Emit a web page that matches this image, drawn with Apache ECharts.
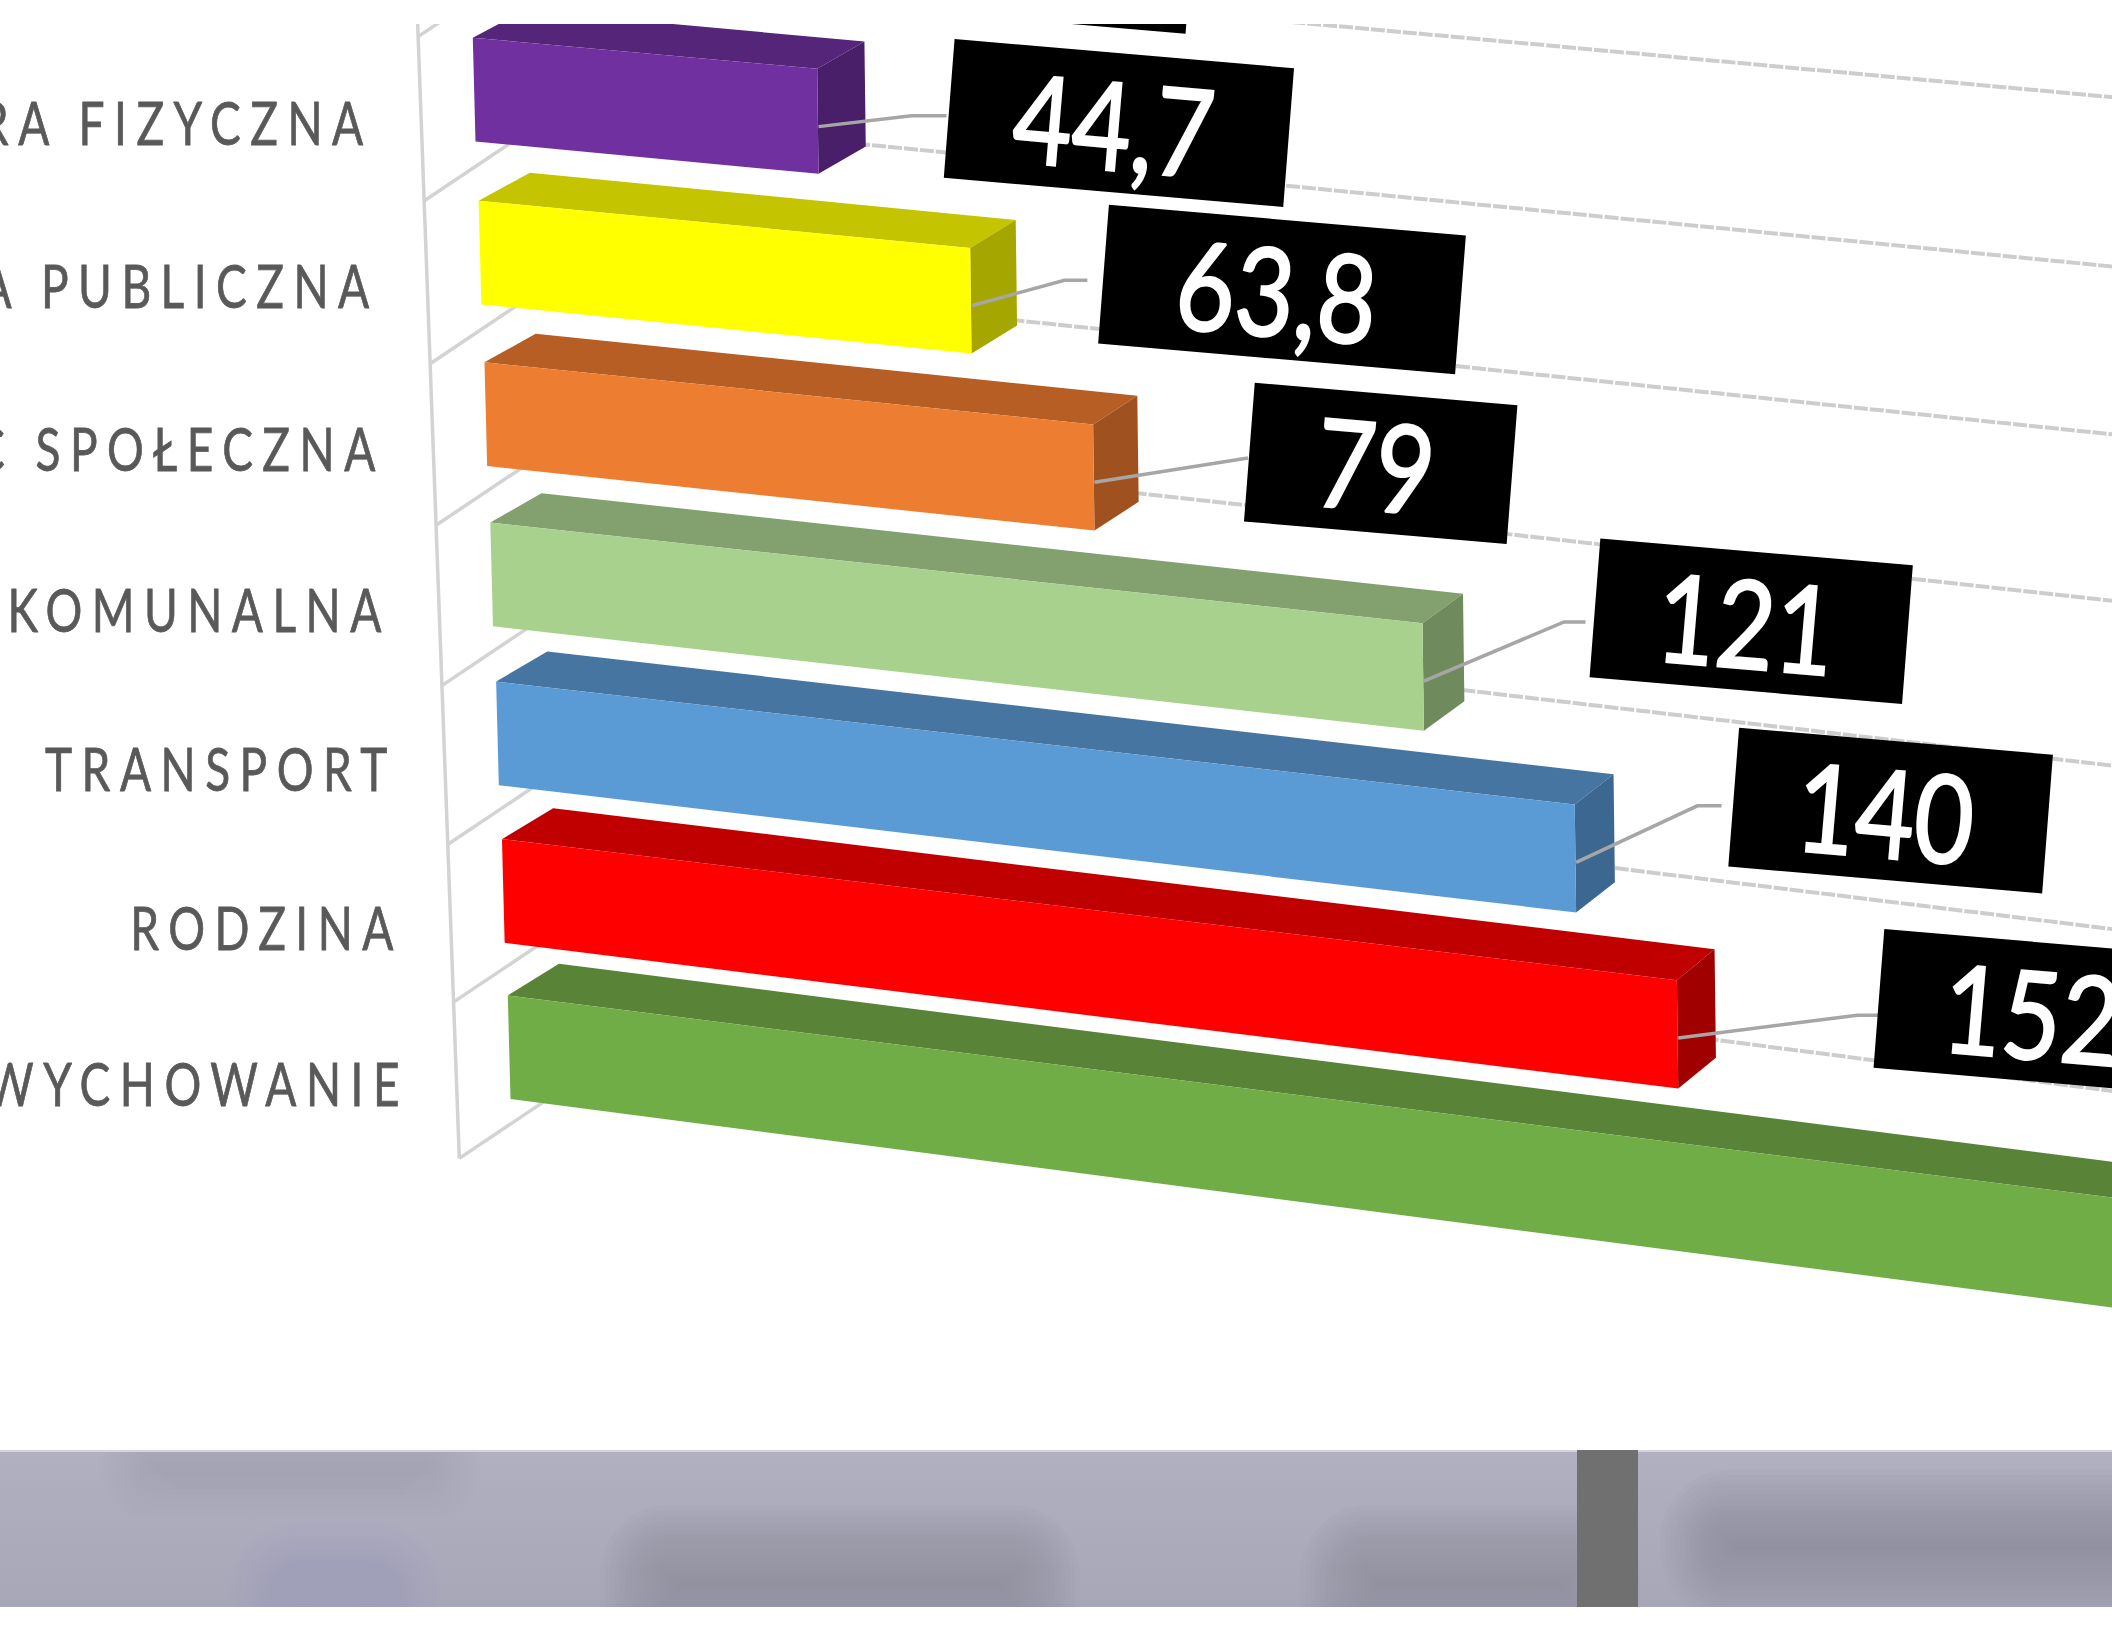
<!DOCTYPE html>
<html><head><meta charset="utf-8">
<script src="https://cdn.jsdelivr.net/npm/echarts@6/dist/echarts.min.js"></script>
<style>
html,body{margin:0;padding:0;background:#fff}
#main{width:2112px;height:1632px}
#main text[fill="#595959"]{letter-spacing:9.5px}
</style></head><body><div id="main"></div>
<script>
// ---- data (bottom to top, as on the category axis)
const categories = ['OŚWIATA I WYCHOWANIE','RODZINA','TRANSPORT','GOSPODARKA KOMUNALNA','POMOC SPOŁECZNA','ADMINISTRACJA PUBLICZNA','KULTURA FIZYCZNA','KULTURA'];
const barValues = [281, 152.5, 140, 121, 79, 63.8, 44.7, 34];
const valueMax = 300;

// ---- style
const frontColors = ['#70AD47','#FF0000','#5B9BD5','#A9D18E','#ED7D31','#FFFF00','#7030A0','#7F7F7F'];
const topColors   = ['#598336','#C00000','#4675A1','#83A06F','#B65E24','#C4C400','#55257A','#666666'];
const sideColors  = ['#4B6E2D','#A00000','#3B6790','#6F8B5D','#9F521F','#A6A600','#481F68','#555555'];
// label box: offset from the bar's end, box width, leader bend and end relative to the box
const boxOffset = [[150,-30],[154,-38],[122,-57],[132,-63],[120,-31],[103,-32],[102,-22],[117,-20]];
const boxWidth  = [240,296,233,232,195,265,252,230];
const leaderBend= [[-30,60],[-20,64],[-31,58],[-27,62],null,[-33,56],[-32,57],[-30,57]];
const leaderEnd = [[-10,60],[-4,64],[-13,58],[-11,62],[-5,56],[-16,56],[-6,57],[-6,57]];

const SC = 2112/1568;            // picture units to pixels
const pts = a => a.map(p => [p[0]*SC, p[1]*SC]);
// perspective of the floor: band position u, length along the value axis
const Y0 = u => 739 - 115.5*u - 0.5*u*u;
const X0 = u => 377 - 4.33*u;
const slope = u => 0.126 - 0.006*u;
const gridSlope = k => 0.135 - 0.0062*k;
const gridDepth = k => 120 - 4*k;

function uLen(api, v, i){
  const o = api.coord([0,0]), one = api.coord([0,1]), p = api.coord([v,i]);
  return {u:(o[1]-p[1])/(o[1]-one[1]), len:(p[0]-o[0])/SC};
}
function renderGrid(params, api){
  const {u} = uLen(api, 0, api.value(1));
  const wall = [X0(u)-36, Y0(u)+121];
  const d = gridDepth(u);
  const back = [wall[0]+d, wall[1]-0.67*d];
  const far = [1800, back[1]+gridSlope(u)*(1800-back[0])];
  const solid = {stroke:'#d3d3d3', lineWidth:3.5, fill:'none'};
  const children = [
    {type:'polyline', shape:{points:pts([wall,back])}, style:solid},
    {type:'polyline', shape:{points:pts([back,far])}, style:{stroke:'#cdcdcd', lineWidth:4, fill:'none', lineDash:[14,2]}}
  ];
  if(u < 0.5){
    children.push({type:'polyline', shape:{points:pts([wall,[wall[0]-36.9,wall[1]-1005]])}, style:solid});
  }
  return {type:'group', children};
}
function renderBar(params, api){
  const i = api.value(1);
  const {u,len} = uLen(api, api.value(0), i);
  const x = X0(u), y = Y0(u), s = slope(u);
  const hL = 77, hR = 77 + 0.004*len;
  const ddx0 = 38, ddx = 38 - 0.0115*len, ddy = -(23.5 - 0.55*u);
  const TL=[x,y], TR=[x+len,y+s*len], BL=[x+2,y+hL], BR=[x+len+1,y+s*len+hR];
  const bTL=[x+ddx0,y+ddy], bTR=[TR[0]+ddx,TR[1]+ddy], bBR=[BR[0]+ddx,BR[1]+ddy];
  return {type:'group', children:[
    {type:'polygon', shape:{points:pts([TL,bTL,bTR,TR])}, style:{fill:topColors[i]}},
    {type:'polygon', shape:{points:pts([TR,bTR,bBR,BR])}, style:{fill:sideColors[i]}},
    {type:'polygon', shape:{points:pts([TL,TR,BR,BL])}, style:{fill:frontColors[i]}}
  ]};
}
function renderLabel(params, api){
  const i = api.value(1), v = api.value(0);
  const {u,len} = uLen(api, v, i);
  const TR=[X0(u)+len, Y0(u)+slope(u)*len];
  const a=[TR[0]+boxOffset[i][0], TR[1]+boxOffset[i][1]], w=boxWidth[i], h=103, sl=0.086;
  const poly=[a,[a[0]+w,a[1]+sl*w],[a[0]+w-8,a[1]+sl*w+h],[a[0]-8,a[1]+h]];
  const cx=(poly[0][0]+poly[2][0])/2, cy=(poly[0][1]+poly[2][1])/2;
  const line=[[TR[0]+1,TR[1]+43]];
  if(leaderBend[i]) line.push([a[0]+leaderBend[i][0],a[1]+leaderBend[i][1]]);
  line.push([a[0]+leaderEnd[i][0],a[1]+leaderEnd[i][1]]);
  return {type:'group', children:[
    {type:'polyline', shape:{points:pts(line)}, style:{stroke:'#a6a6a6', lineWidth:3.5, fill:'none'}},
    {type:'polygon', shape:{points:pts(poly)}, style:{fill:'#000'}},
    {type:'text', x:cx*SC-5, y:cy*SC, scaleY:1.2, rotation:-0.085,
     style:{text:String(v).replace('.',','), fill:'#fff', stroke:'#fff', lineWidth:2, font:'400 102px Lato', align:'center', verticalAlign:'middle'}}
  ]};
}
function renderCategory(params, api){
  const i = api.value(1);
  const {u} = uLen(api, 0, i);
  return {type:'text', x:(297-4.5*u)*SC+9, y:(Y0(u)+65-0.5*u)*SC, scaleY:1.3,
    style:{text:categories[i], fill:'#595959', stroke:'#595959', lineWidth:0.6, font:'400 46px Lato', align:'right', verticalAlign:'middle'}};
}
// soft patches of the blurred strip at the bottom: [x,y,w,h,colour,opacity]
const patches = [
  [140,1450,300,30,'#9c9baa',0.04],
  [640,1545,400,80,'#8f8f9b',0.07],
  [1340,1545,260,80,'#8f8f9b',0.07],
  [1700,1510,520,70,'#8f8f9b',0.06],
  [270,1560,130,60,'#a4a8c4',0.03]
];
const graphics = [{type:'rect',shape:{x:0,y:1450,width:2112,height:157},
  style:{fill:new echarts.graphic.LinearGradient(0,0,0,1,[{offset:0,color:'#b1b0c1'},{offset:1,color:'#a8a7b8'}])},z:1}];
patches.forEach(p=>{
  for(let k=0;k<16;k++){
    const ins=k*5;
    graphics.push({type:'rect',shape:{x:p[0]-40+ins,y:p[1]-40+ins,width:Math.max(p[2]+80-2*ins,10),height:Math.max(p[3]+80-2*ins,10),r:Math.max(70-ins,4)},
      style:{fill:p[4],opacity:p[5]},z:2});
  }
});
graphics.push(
  {type:'rect',shape:{x:0,y:1607,width:2112,height:25},style:{fill:'#fff'},z:3},
  {type:'rect',shape:{x:0,y:1330,width:2112,height:120},style:{fill:'#fff'},z:3},
  {type:'rect',shape:{x:0,y:1450,width:2112,height:2},style:{fill:'#d4d4dc'},z:4},
  {type:'rect',shape:{x:1577,y:1450,width:61,height:157},style:{fill:'#707070'},z:4},
  {type:'rect',shape:{x:0,y:0,width:2112,height:24},style:{fill:'#fff'},z:100}
);
const chart = echarts.init(document.getElementById('main'), null, {renderer:'svg'});
const rows = barValues.map((v,i)=>[v,i]);
chart.setOption({
  animation:false,
  backgroundColor:'#fff',
  grid:{left:377*SC, width:valueMax*5.72*SC, top:0, height:8*118.6*SC, outerBoundsMode:'none'},
  xAxis:{type:'value', min:0, max:valueMax, show:false},
  yAxis:{type:'category', data:categories, show:false},
  graphic:graphics,
  series:[
    {type:'custom', coordinateSystem:'cartesian2d', clip:false, z:2, data:rows, renderItem:renderGrid, silent:true},
    {type:'custom', coordinateSystem:'cartesian2d', clip:false, z:3, data:rows, renderItem:renderBar, silent:true},
    {type:'custom', coordinateSystem:'cartesian2d', clip:false, z:4, data:rows, renderItem:renderLabel, silent:true},
    {type:'custom', coordinateSystem:'cartesian2d', clip:false, z:5, data:rows, renderItem:renderCategory, silent:true}
  ]
});
</script></body></html>
